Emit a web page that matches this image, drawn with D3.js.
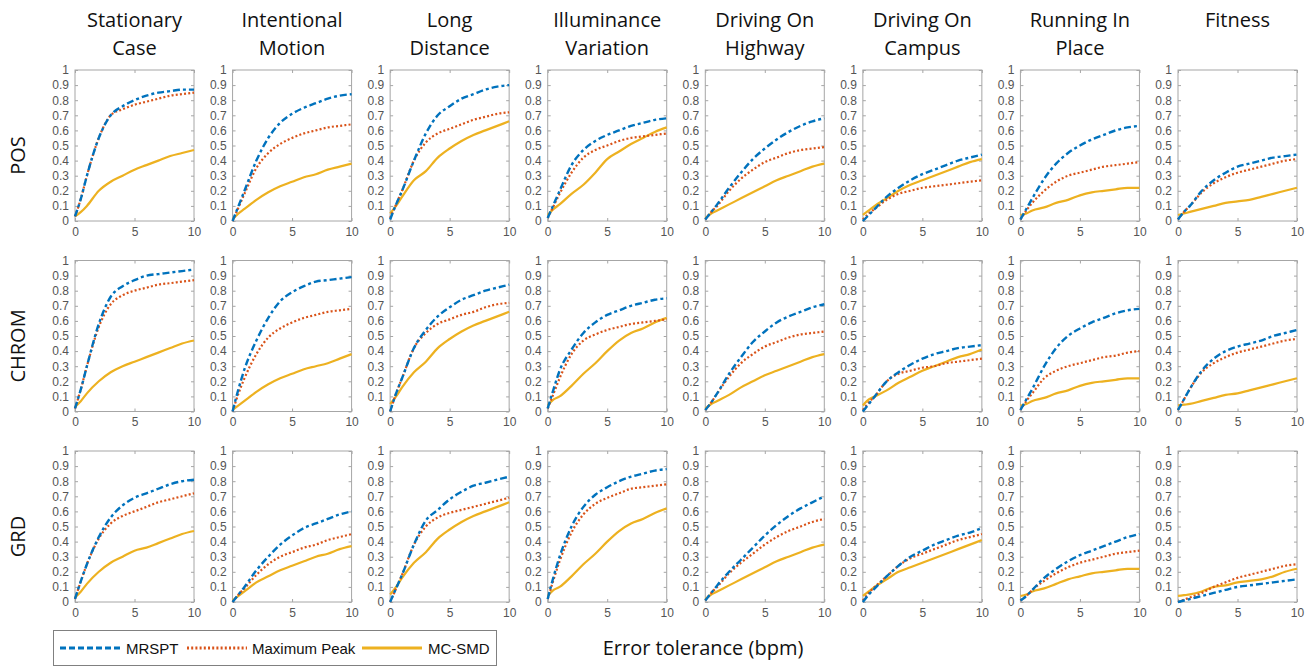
<!DOCTYPE html>
<html>
<head>
<meta charset="utf-8">
<script src="https://cdn.jsdelivr.net/npm/d3@7"></script>
<style>
  body { margin: 0; background: #fff; }
  svg { display: block; }
</style>
</head>
<body>
<div id="chart"></div>
<script>
// error tolerance values (bpm) the curves were read at
var tolerance = [0, 0.5, 1, 2, 3, 4, 5, 6, 7, 8, 9, 10];
var methods = ["MRSPT", "Maximum Peak", "MC-SMD"];
var algorithms = ["POS", "CHROM", "GRD"];
var scenarios = [["Stationary", "Case"], ["Intentional", "Motion"], ["Long", "Distance"], ["Illuminance", "Variation"],
    ["Driving On", "Highway"], ["Driving On", "Campus"], ["Running In", "Place"], ["Fitness"]];
var yTickValues = [0, 0.1, 0.2, 0.3, 0.4, 0.5, 0.6, 0.7, 0.8, 0.9, 1];
var xTickValues = [0, 5, 10];
var xLabel = "Error tolerance (bpm)";

// POS row, one array per scenario
var posMRSPT = [
    [0.03,0.15,0.3,0.55,0.7,0.76,0.8,0.83,0.85,0.86,0.87,0.87],
    [0,0.1,0.2,0.4,0.55,0.65,0.71,0.75,0.78,0.81,0.83,0.84],
    [0.01,0.11,0.2,0.4,0.58,0.7,0.76,0.81,0.84,0.87,0.89,0.9],
    [0.02,0.11,0.2,0.37,0.47,0.53,0.57,0.6,0.63,0.65,0.67,0.68],
    [0.01,0.06,0.11,0.22,0.32,0.41,0.48,0.54,0.59,0.63,0.66,0.68],
    [0,0.04,0.08,0.16,0.22,0.27,0.31,0.34,0.37,0.4,0.42,0.44],
    [0.01,0.08,0.15,0.28,0.38,0.45,0.5,0.54,0.57,0.6,0.62,0.63],
    [0.01,0.06,0.1,0.2,0.27,0.32,0.36,0.38,0.4,0.42,0.43,0.44]];
var posPeak = [
    [0.03,0.15,0.3,0.55,0.7,0.74,0.77,0.79,0.81,0.83,0.84,0.85],
    [0,0.09,0.18,0.35,0.45,0.51,0.55,0.58,0.6,0.62,0.63,0.64],
    [0.02,0.11,0.2,0.4,0.52,0.58,0.61,0.64,0.67,0.69,0.71,0.72],
    [0.02,0.1,0.18,0.32,0.42,0.47,0.5,0.53,0.55,0.56,0.57,0.58],
    [0.01,0.06,0.1,0.2,0.28,0.34,0.39,0.42,0.45,0.47,0.48,0.49],
    [0.01,0.05,0.08,0.14,0.18,0.2,0.22,0.23,0.24,0.25,0.26,0.27],
    [0.01,0.07,0.12,0.2,0.26,0.3,0.32,0.34,0.36,0.37,0.38,0.39],
    [0.01,0.06,0.1,0.19,0.25,0.29,0.32,0.34,0.36,0.38,0.4,0.41]];
var posSMD = [
    [0.03,0.06,0.1,0.2,0.26,0.3,0.34,0.37,0.4,0.43,0.45,0.47],
    [0.01,0.05,0.08,0.14,0.19,0.23,0.26,0.29,0.31,0.34,0.36,0.38],
    [0.05,0.1,0.16,0.27,0.33,0.42,0.48,0.53,0.57,0.6,0.63,0.66],
    [0.04,0.08,0.11,0.18,0.24,0.32,0.41,0.46,0.51,0.55,0.59,0.62],
    [0.02,0.05,0.07,0.11,0.15,0.19,0.23,0.27,0.3,0.33,0.36,0.38],
    [0.04,0.07,0.1,0.15,0.2,0.24,0.27,0.3,0.33,0.36,0.39,0.41],
    [0.04,0.05,0.07,0.09,0.12,0.14,0.17,0.19,0.2,0.21,0.22,0.22],
    [0.04,0.05,0.06,0.08,0.1,0.12,0.13,0.14,0.16,0.18,0.2,0.22]];

// CHROM row
var chromMRSPT = [
    [0.02,0.15,0.3,0.58,0.76,0.83,0.87,0.9,0.91,0.92,0.93,0.94],
    [0,0.15,0.28,0.47,0.62,0.73,0.79,0.83,0.86,0.87,0.88,0.89],
    [0,0.12,0.22,0.42,0.54,0.63,0.69,0.74,0.77,0.8,0.82,0.84],
    [0.02,0.15,0.27,0.41,0.52,0.59,0.64,0.67,0.7,0.72,0.74,0.75],
    [0.01,0.06,0.12,0.25,0.36,0.46,0.53,0.59,0.63,0.66,0.69,0.71],
    [0,0.05,0.1,0.2,0.26,0.31,0.35,0.38,0.4,0.42,0.43,0.44],
    [0.01,0.08,0.15,0.3,0.42,0.5,0.55,0.59,0.62,0.65,0.67,0.68],
    [0.01,0.08,0.15,0.27,0.35,0.4,0.43,0.45,0.47,0.5,0.52,0.54]];
var chromPeak = [
    [0.02,0.15,0.3,0.56,0.71,0.77,0.8,0.82,0.84,0.85,0.86,0.87],
    [0,0.12,0.22,0.38,0.49,0.55,0.59,0.62,0.64,0.66,0.67,0.68],
    [0,0.12,0.22,0.42,0.52,0.58,0.61,0.64,0.66,0.69,0.71,0.72],
    [0.02,0.12,0.22,0.38,0.47,0.51,0.54,0.56,0.58,0.59,0.6,0.61],
    [0.01,0.06,0.12,0.23,0.32,0.38,0.43,0.46,0.49,0.51,0.52,0.53],
    [0.01,0.06,0.1,0.2,0.25,0.27,0.29,0.3,0.32,0.33,0.34,0.35],
    [0.01,0.07,0.12,0.22,0.27,0.3,0.32,0.34,0.36,0.37,0.39,0.4],
    [0.01,0.08,0.15,0.26,0.32,0.36,0.39,0.41,0.43,0.45,0.47,0.48]];
var chromSMD = [
    [0.03,0.07,0.12,0.2,0.26,0.3,0.33,0.36,0.39,0.42,0.45,0.47],
    [0.01,0.04,0.07,0.13,0.18,0.22,0.25,0.28,0.3,0.32,0.35,0.38],
    [0.05,0.1,0.16,0.26,0.33,0.42,0.48,0.53,0.57,0.6,0.63,0.66],
    [0.04,0.08,0.1,0.17,0.25,0.32,0.4,0.47,0.52,0.55,0.59,0.62],
    [0.02,0.05,0.07,0.11,0.16,0.2,0.24,0.27,0.3,0.33,0.36,0.38],
    [0.04,0.08,0.1,0.14,0.19,0.23,0.27,0.3,0.33,0.36,0.38,0.41],
    [0.04,0.05,0.07,0.09,0.12,0.14,0.17,0.19,0.2,0.21,0.22,0.22],
    [0.04,0.045,0.05,0.07,0.09,0.11,0.12,0.14,0.16,0.18,0.2,0.22]];

// GRD row
var grdMRSPT = [
    [0.02,0.14,0.25,0.43,0.56,0.64,0.69,0.72,0.75,0.78,0.8,0.81],
    [0,0.05,0.1,0.21,0.3,0.38,0.44,0.49,0.52,0.55,0.58,0.6],
    [0,0.09,0.18,0.38,0.54,0.61,0.68,0.73,0.77,0.79,0.81,0.83],
    [0.02,0.17,0.3,0.5,0.63,0.71,0.76,0.8,0.83,0.85,0.87,0.88],
    [0.01,0.06,0.11,0.2,0.28,0.36,0.44,0.51,0.57,0.62,0.66,0.7],
    [0,0.05,0.09,0.17,0.24,0.3,0.34,0.38,0.41,0.44,0.46,0.49],
    [0.01,0.04,0.08,0.16,0.22,0.27,0.31,0.34,0.37,0.4,0.43,0.45],
    [0,0.01,0.02,0.04,0.06,0.08,0.1,0.11,0.12,0.13,0.14,0.15]];
var grdPeak = [
    [0.02,0.14,0.25,0.42,0.52,0.57,0.6,0.63,0.66,0.68,0.7,0.72],
    [0,0.05,0.09,0.18,0.25,0.3,0.33,0.36,0.38,0.41,0.43,0.45],
    [0,0.09,0.18,0.38,0.5,0.56,0.59,0.61,0.63,0.65,0.67,0.69],
    [0.02,0.15,0.27,0.46,0.58,0.65,0.69,0.72,0.75,0.76,0.77,0.78],
    [0.01,0.06,0.1,0.19,0.26,0.32,0.38,0.43,0.47,0.5,0.53,0.55],
    [0.01,0.06,0.1,0.17,0.24,0.29,0.32,0.35,0.38,0.41,0.43,0.45],
    [0.01,0.04,0.08,0.14,0.19,0.23,0.26,0.28,0.3,0.32,0.33,0.34],
    [0,0.015,0.03,0.06,0.1,0.13,0.16,0.18,0.2,0.22,0.24,0.25]];
var grdSMD = [
    [0.03,0.07,0.12,0.2,0.26,0.3,0.34,0.36,0.39,0.42,0.45,0.47],
    [0.01,0.04,0.07,0.13,0.17,0.21,0.24,0.27,0.3,0.32,0.35,0.37],
    [0.05,0.1,0.16,0.26,0.33,0.42,0.48,0.53,0.57,0.6,0.63,0.66],
    [0.04,0.08,0.1,0.17,0.25,0.32,0.4,0.47,0.52,0.55,0.59,0.62],
    [0.02,0.05,0.07,0.11,0.15,0.19,0.23,0.27,0.3,0.33,0.36,0.38],
    [0.04,0.07,0.1,0.15,0.2,0.23,0.26,0.29,0.32,0.35,0.38,0.41],
    [0.04,0.05,0.07,0.09,0.12,0.15,0.17,0.19,0.2,0.21,0.22,0.22],
    [0.04,0.045,0.05,0.07,0.1,0.11,0.13,0.14,0.15,0.17,0.2,0.22]];

var rows = [[posMRSPT, posPeak, posSMD], [chromMRSPT, chromPeak, chromSMD], [grdMRSPT, grdPeak, grdSMD]];

var w = 1315, h = 666;
var pw = 119, ph = 151;   // panel size

// line look per method (matlab-ish)
var colors = ["#0072BD", "#D95319", "#EDB120"];
var dashes = ["7,3,3,3", "2,2.2", null];
var widths = [2.4, 2.2, 2.2];

var svg = d3.select("#chart").append("svg")
    .attr("width", w)
    .attr("height", h);

var colX = d3.scaleLinear().domain([0, 7]).range([75, 1178]);
var rowY = d3.scaleLinear().domain([0, 2]).range([70, 451]);

var x = d3.scaleLinear().domain([0, 10]).range([0, pw]);
var y = d3.scaleLinear().domain([0, 1]).range([ph, 0]);

var line = d3.line()
    .x(function(d) { return x(d[0]); })
    .y(function(d) { return y(d[1]); })
    .curve(d3.curveMonotoneX);

//column titles
scenarios.forEach(function(s, c) {
    var t = svg.append("text")
        .attr("x", colX(c) + pw / 2)
        .attr("y", 27)
        .attr("text-anchor", "middle")
        .style("font-family", "'Open Sans', sans-serif")
        .style("font-size", "20px")
        .style("fill", "#111");
    s.forEach(function(line, i) {
        t.append("tspan").attr("x", colX(c) + pw / 2).attr("dy", i == 0 ? 0 : 28).text(line);
    });
});

//row labels
algorithms.forEach(function(a, r) {
    svg.append("text")
        .attr("transform", "translate(25," + (rowY(r) + ph / 2 + 10) + ") rotate(-90)")
        .attr("text-anchor", "middle")
        .style("font-family", "'Open Sans', sans-serif")
        .style("font-size", "20px")
        .style("fill", "#111")
        .text(a);
});

rows.forEach(function(rowData, r) {
    scenarios.forEach(function(s, c) {
        var g = svg.append("g")
            .attr("transform", "translate(" + colX(c) + "," + rowY(r) + ")");

        var yAxis = d3.axisLeft(y).tickValues(yTickValues).tickSize(-3).tickPadding(6)
            .tickFormat(d3.format("~g"));
        var xAxis = d3.axisBottom(x).tickValues(xTickValues).tickSize(-3).tickPadding(6);

        g.append("g").call(yAxis);
        g.append("g").attr("transform", "translate(0," + ph + ")").call(xAxis);
        // mirrored ticks on top / right
        g.append("g").call(d3.axisRight(y).tickValues(yTickValues).tickSize(-3).tickFormat(""))
            .attr("transform", "translate(" + pw + ",0)");
        g.append("g").call(d3.axisTop(x).tickValues(xTickValues).tickSize(-3).tickFormat(""));

        g.selectAll(".domain").remove();
        g.selectAll(".tick line").attr("stroke", "#a6a6a6");
        g.selectAll(".tick text")
            .style("font-family", "'Liberation Sans', Arial, sans-serif")
            .style("font-size", "12px")
            .style("fill", "#555");

        g.append("rect")
            .attr("width", pw)
            .attr("height", ph)
            .attr("fill", "none")
            .attr("stroke", "#a6a6a6")
            .attr("stroke-width", 1);

        // draw the three curves, MC-SMD underneath
        [2, 1, 0].forEach(function(m) {
            var pts = tolerance.map(function(t, i) { return [t, rowData[m][c][i]]; });
            g.append("path")
                .datum(pts)
                .attr("d", line)
                .attr("fill", "none")
                .attr("stroke", colors[m])
                .attr("stroke-width", widths[m])
                .attr("stroke-dasharray", dashes[m]);
        });
    });
});

// x axis title
svg.append("text")
    .attr("x", 703)
    .attr("y", 655)
    .attr("text-anchor", "middle")
    .style("font-family", "'Open Sans', sans-serif")
    .style("font-size", "20px")
    .style("fill", "#111")
    .text(xLabel);

//legend
var lg = svg.append("g").attr("class", "legend");
lg.append("rect")
    .attr("x", 53.5).attr("y", 630.5)
    .attr("width", 443).attr("height", 35)
    .attr("fill", "#fff")
    .attr("stroke", "#808080");
var legendPos = [[60, 126], [187, 252], [362, 428]];
var legendDash = ["6,3", "2,2.2", null];
methods.forEach(function(m, i) {
    lg.append("line")
        .attr("x1", legendPos[i][0]).attr("x2", legendPos[i][0] + 60)
        .attr("y1", 648).attr("y2", 648)
        .attr("stroke", colors[i])
        .attr("stroke-width", 3)
        .attr("stroke-dasharray", legendDash[i]);
    lg.append("text")
        .attr("x", legendPos[i][1])
        .attr("y", 654)
        .style("font-family", "'Liberation Sans', Arial, sans-serif")
        .style("font-size", "15px")
        .style("fill", "#111")
        .text(m);
});
</script>
</body>
</html>
